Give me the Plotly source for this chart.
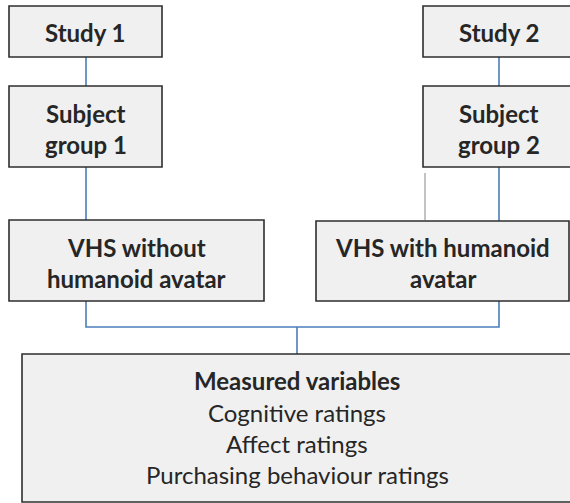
import plotly.graph_objects as go

# ---- content ----
box_titles = ["Study 1", "Study 2", "Subject<br>group 1", "Subject<br>group 2",
              "VHS without<br>humanoid avatar", "VHS with humanoid<br>avatar"]
measured_title = "Measured variables"
measured_items = ["Cognitive ratings", "Affect ratings", "Purchasing behaviour ratings"]

# ---- layout geometry (screen pixel space, y downward) ----
box_rects = [(9, 6, 162, 57), (423, 6, 580, 57),
             (9, 86, 162, 167), (423, 86, 580, 167),
             (9, 220, 264, 301), (316, 221, 569, 301)]
box_text_x = [85.5, 499, 85.5, 499, 136.5, 442.5]
box_text_y = [[32], [32], [113, 144], [113, 144], [247, 278], [247, 278]]
measured_rect = (22, 354, 580, 502)
measured_x = 297
measured_y = [380, 412, 443, 474]

blue_paths = [
    [(86, 57), (86, 86)],
    [(499, 57), (499, 86)],
    [(86, 167), (86, 220)],
    [(499, 167), (499, 221)],
    [(86, 301), (86, 327), (499, 327), (499, 301)],
    [(297, 327), (297, 354)],
]
gray_paths = [[(425, 173), (425, 220)]]

FILL = "#f0f0f0"
EDGE = "#2e2e2e"
BLUE = "#4a7ebb"
GRAY = "#b4b4b4"
TXT = "#262626"
FONT = "Lato, Carlito, Calibri, sans-serif"
FS = 24

fig = go.Figure()
shapes = []
annotations = []


def add_path(pts, color, width=1.6):
    d = "M " + " L ".join(f"{x},{y}" for x, y in pts)
    shapes.append(dict(type="path", path=d, xref="x", yref="y",
                       line=dict(color=color, width=width), layer="below"))


for p in blue_paths:
    add_path(p, BLUE)
for p in gray_paths:
    add_path(p, GRAY)

for (x0, y0, x1, y1) in box_rects + [measured_rect]:
    shapes.append(dict(type="rect", x0=x0, y0=y0, x1=x1, y1=y1, xref="x", yref="y",
                       fillcolor=FILL, line=dict(color=EDGE, width=1.6), layer="above"))

for title, tx, tys in zip(box_titles, box_text_x, box_text_y):
    lines = title.split("<br>")
    for ln, ty in zip(lines, tys):
        annotations.append(dict(x=tx, y=ty, xref="x", yref="y", text=f"<b>{ln}</b>",
                                showarrow=False, xanchor="center", yanchor="middle",
                                font=dict(family=FONT, size=FS, color=TXT)))

m_lines = [f"<b>{measured_title}</b>"] + measured_items
for ln, ty in zip(m_lines, measured_y):
    annotations.append(dict(x=measured_x, y=ty, xref="x", yref="y", text=ln,
                            showarrow=False, xanchor="center", yanchor="middle",
                            font=dict(family=FONT, size=FS, color=TXT)))

fig.update_layout(
    width=570, height=503,
    margin=dict(l=0, r=0, t=0, b=0),
    paper_bgcolor="white", plot_bgcolor="white",
    xaxis=dict(range=[0, 570], visible=False, fixedrange=True),
    yaxis=dict(range=[503, 0], visible=False, fixedrange=True),
    shapes=shapes, annotations=annotations, showlegend=False,
)

fig.write_html("out.html", config={"displayModeBar": False},
               post_script="document.body.style.margin='0';document.body.style.overflow='hidden';")
